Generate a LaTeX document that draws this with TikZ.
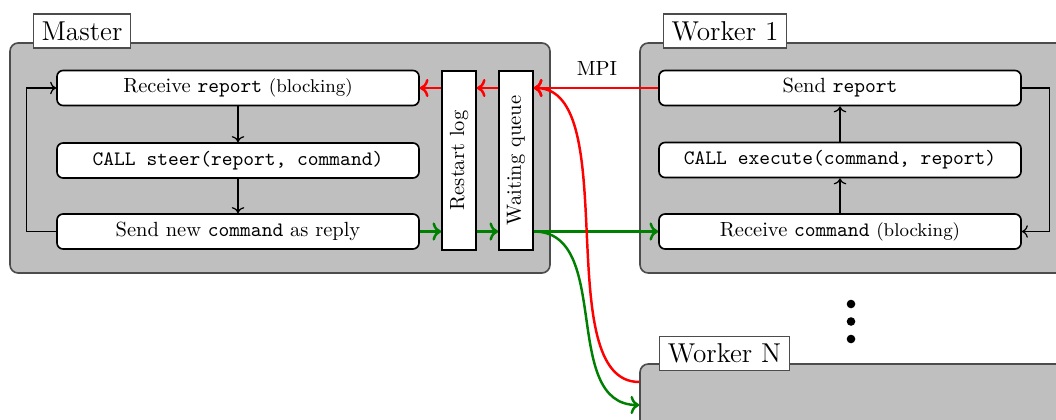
\documentclass[tikz,border=0pt]{standalone}
\usetikzlibrary{arrows.meta}
\begin{document}
\begin{tikzpicture}[x=0.4878pt,y=-0.4878pt,
  group/.style={draw=black!70, fill=gray!50, line width=0.8pt, rounded corners=4pt, inner sep=0pt},
  grouplabel/.style={draw=black!70, fill=white, line width=0.6pt, font=\fontsize{13.3}{16}\selectfont, inner xsep=4pt, inner ysep=0pt, minimum height=16.6pt},
  stepbox/.style={draw, fill=white, thick, rounded corners=3pt, minimum width=176.6pt, minimum height=17.1pt, inner sep=0pt},
  bufbox/.style={draw, fill=white, thick, rotate=90, minimum width=87.3pt, minimum height=16.6pt, inner sep=0pt},
  flow/.style={->, line width=0.6pt},
  msgred/.style={->, red, very thick},
  msggreen/.style={->, green!50!black, very thick}]

\useasboundingbox (0,0) rectangle (1056,419);

% process groups
\node[group, minimum width=263.4pt, minimum height=112.2pt] (master) at (280,158) {};
\node[group, minimum width=214.6pt, minimum height=112.2pt] (worker1) at (860,158) {};
\node[group, minimum width=214.6pt, minimum height=112.2pt] (workerN) at (860,479) {};

\node[grouplabel] (masterlabel) at (82,31) {Master};
\node[grouplabel] (worker1label) at (725,31) {Worker 1};
\node[grouplabel] (workerNlabel) at (724.5,353.5) {Worker N};

% master loop
\node[stepbox] (mrecv) at (238,88) {Receive \texttt{report} {\small(blocking)}};
\node[stepbox] (msteer) at (238,160.5) {\texttt{CALL steer(report, command)}};
\node[stepbox] (msend) at (238,231.5) {Send new \texttt{command} as reply};
\node[bufbox] (rlog) at (459,160.5) {Restart log};
\node[bufbox] (wq) at (516,160.5) {Waiting queue};

\draw[flow] (mrecv) -- (msteer);
\draw[flow] (msteer) -- (msend);
\draw[flow] (msend.west) -- ++(-30,0) |- (mrecv.west);

% worker loop
\node[stepbox] (wsend) at (840,88) {Send \texttt{report}};
\node[stepbox] (wexec) at (840,160) {\texttt{CALL execute(command, report)}};
\node[stepbox] (wrecv) at (840,231.5) {Receive \texttt{command} {\small(blocking)}};

\draw[flow] (wrecv) -- (wexec);
\draw[flow] (wexec) -- (wsend);
\draw[flow] (wsend.east) -- ++(28,0) |- (wrecv.east);

\node (mpi) at (597,69) {MPI};

% messages
\draw[msgred] (rlog.north |- mrecv) -- (mrecv.east);
\draw[msgred] (wq.north |- mrecv) -- (rlog.south |- mrecv);
\draw[msgred] (wsend.west) -- (wq.south |- wsend);

\draw[msggreen] (msend.east) -- (rlog.north |- msend);
\draw[msggreen] (rlog.south |- msend) -- (wq.north |- msend);
\draw[msggreen] (wq.south |- wrecv) -- (wrecv.west);

\coordinate (wnred) at (workerN.west |- 0,382);
\coordinate (wngreen) at (workerN.west |- 0,405);
\draw[msgred] (wnred) to[out=180,in=0,looseness=0.74] (wq.south |- wsend);
\draw[msggreen] (wq.south |- wrecv) to[out=0,in=180] (wngreen);

% more workers
\fill (851,304) circle (2.1pt);
\fill (851,321.5) circle (2.1pt);
\fill (851,339) circle (2.1pt);
\end{tikzpicture}
\end{document}
